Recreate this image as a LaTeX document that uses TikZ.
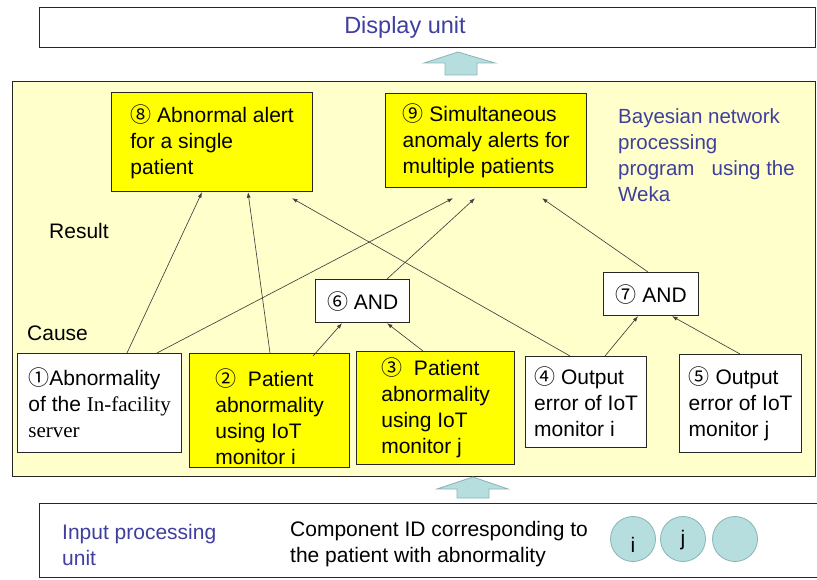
\documentclass[tikz,border=0pt]{standalone}
\usepackage{fontspec}
\setmainfont{Liberation Sans}
\newfontfamily\serifpart{Liberation Serif}
\newfontfamily\cjk{Noto Sans CJK JP}
\usetikzlibrary{arrows.meta}
\definecolor{bgyellow}{HTML}{FFFFCC}
\definecolor{boxyellow}{HTML}{FFFF00}
\definecolor{bluetext}{HTML}{3F3FA0}
\definecolor{cyanfill}{HTML}{B7DEDE}
\definecolor{cyanline}{HTML}{8AB4B4}
\begin{document}
\begin{tikzpicture}[x=1pt,y=-1pt,
  font=\fontsize{21}{26}\selectfont,
  frame/.style={draw=black!85, line width=1.2pt, anchor=north west, inner sep=0pt},
  ybox/.style={frame, fill=boxyellow, align=left},
  wbox/.style={frame, fill=white, align=left},
  plain/.style={inner sep=0pt, align=left},
  link/.style={draw=black!75, line width=0.65pt, -{Latex[length=5.5pt,width=4pt]}},
  blockarrow/.style={draw=cyanline, line width=0.8pt, fill=cyanfill},
  idcircle/.style={circle, draw=cyanline, line width=0.8pt, fill=cyanfill, minimum size=45pt, inner sep=0pt}]
\useasboundingbox (0,0) rectangle (817,580);

% units
\node[frame, fill=white, minimum width=776pt, minimum height=40pt] (disp) at (39,7) {};
\node[plain, text=bluetext, font=\fontsize{23.5}{26}\selectfont] (disptext) at (405,27) {Display unit};
\node[frame, fill=bgyellow, minimum width=803pt, minimum height=395pt] (bpp) at (12,81) {};
\node[frame, fill=white, minimum width=782pt, minimum height=74pt] (inp) at (39,503) {};

% block arrows
\draw[blockarrow] (458,52) -- (495,63) -- (477,63) -- (477,75) -- (445,75) -- (445,63) -- (424,63) -- cycle;
\draw[blockarrow] (473,477) -- (508,489) -- (489,489) -- (489,498) -- (457,498) -- (457,489) -- (437,489) -- cycle;

% result nodes
\node[ybox, minimum width=201pt, minimum height=99pt] (n8) at (111,92)
  {{\cjk ⑧} Abnormal alert\\for a single\\patient};
\node[ybox, minimum width=201pt, minimum height=94pt] (n9) at (385,93)
  {{\cjk ⑨} Simultaneous\\anomaly alerts for\\multiple patients};
\node[plain, anchor=north west, text=bluetext, font=\fontsize{20.5}{26}\selectfont] (bayes) at (618,108)
  {Bayesian network\\processing\\program\ \ \ using the\\Weka};
\node[plain, anchor=west] (result) at (49,231) {Result};
\node[plain, anchor=west] (cause) at (27,333) {Cause};

% AND nodes
\node[wbox, minimum width=94pt, minimum height=43pt] (n6) at (315,279) {{\cjk ⑥} AND};
\node[wbox, minimum width=95pt, minimum height=43pt] (n7) at (603,272) {{\cjk ⑦} AND};

% cause nodes
\node[wbox, minimum width=164pt, minimum height=99pt] (n1) at (17,353)
  {{\cjk ①}Abnormality\\of the {\serifpart In-facility}\\{\serifpart server}};
\node[ybox, minimum width=160pt, minimum height=114pt] (n2) at (189,353)
  {\rule{0pt}{30pt}{\cjk ②}\ \ Patient\\abnormality\\using IoT\\monitor i};
\node[ybox, minimum width=158pt, minimum height=113pt] (n3) at (356,351)
  {{\cjk ③}\ \ Patient\\abnormality\\using IoT\\monitor j};
\node[wbox, minimum width=121pt, minimum height=91pt] (n4) at (525,356)
  {{\cjk ④} Output\\error of IoT\\monitor i};
\node[wbox, minimum width=122pt, minimum height=98pt] (n5) at (679,354)
  {{\cjk ⑤} Output\\error of IoT\\monitor j};

% input unit contents
\node[plain, anchor=west, text=bluetext] (inlabel) at (62,545) {Input processing\\unit};
\node[plain, anchor=west] (comp) at (290,544) {Component ID corresponding to\\the patient with abnormality};
\node[idcircle] (ci) at (633,539) {\raisebox{-13.5pt}[0pt][0pt]{i}};
\node[idcircle] (cj) at (683,539) {\raisebox{-6.5pt}[0pt][0pt]{j}};
\node[idcircle] (ck) at (735,539) {};

% links
\draw[link] ([xshift=110pt]n1.north west) -- ([xshift=91pt]n8.south west);
\draw[link] ([xshift=140pt]n1.north west) -- ([xshift=68pt,yshift=-10pt]n9.south west);
\draw[link] ([xshift=81pt]n2.north west) -- ([xshift=137pt]n8.south west);
\draw[link] ([xshift=124pt,yshift=-3pt]n2.north west) -- ([xshift=27pt]n6.south west);
\draw[link] ([xshift=67pt]n3.north west) -- ([xshift=72pt]n6.south west);
\draw[link] ([xshift=72pt]n6.north west) -- ([xshift=90pt,yshift=-10pt]n9.south west);
\draw[link] ([xshift=45pt]n4.north west) -- ([xshift=181pt,yshift=-6pt]n8.south west);
\draw[link] ([xshift=80pt]n4.north west) -- ([xshift=35pt]n7.south west);
\draw[link] ([xshift=61pt]n5.north west) -- ([xshift=69pt]n7.south west);
\draw[link] ([xshift=45pt]n7.north west) -- ([xshift=157pt,yshift=-10pt]n9.south west);
\end{tikzpicture}
\end{document}
